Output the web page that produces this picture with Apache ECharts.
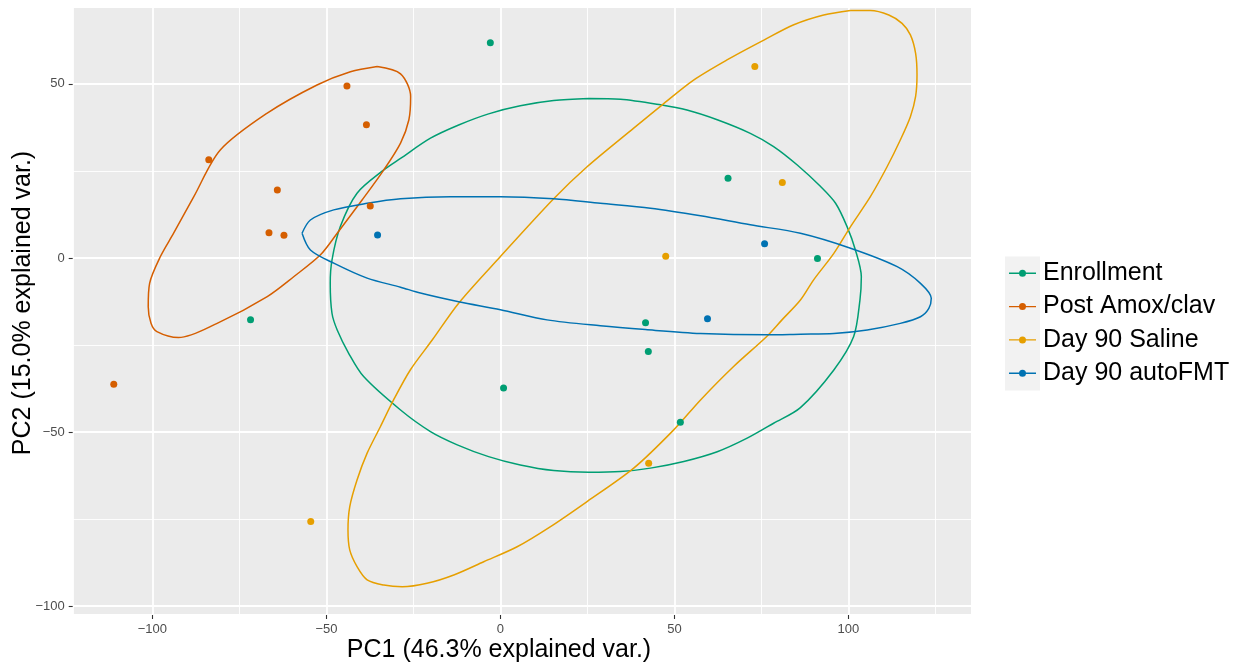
<!DOCTYPE html>
<html>
<head>
<meta charset="utf-8">
<title>PCA</title>
<script src="https://cdn.jsdelivr.net/npm/echarts@6/dist/echarts.min.js"></script>
<style>
  html, body { margin: 0; padding: 0; background: #fff; }
  #chart { width: 1237px; height: 663px; }
</style>
</head>
<body>
<div id="chart"></div>
<script>
const groups = ['Enrollment', 'Post Amox/clav', 'Day 90 Saline', 'Day 90 autoFMT']
const colors = ['#009E73', '#D55E00', '#E69F00', '#0072B2']

// sample scores [PC1, PC2]
const enrollmentPts = [[-2.9, 61.8], [-71.8, -17.8], [65.4, 22.9], [91.1, -0.2], [41.7, -18.6], [42.5, -26.9], [0.9, -37.4], [51.7, -47.2]]
const amoxPts = [[-44.1, 49.4], [-38.5, 38.3], [-83.8, 28.2], [-64.1, 19.5], [-37.4, 14.9], [-66.5, 7.2], [-62.2, 6.5], [-111.1, -36.3]]
const salinePts = [[73.1, 55.0], [81.0, 21.7], [47.5, 0.5], [42.6, -59.0], [-54.5, -75.7]]
const fmtPts = [[-35.3, 6.6], [75.9, 4.1], [59.5, -17.5]]

// ellipse outlines
const enrollmentEll = [[25.4, 45.8], [34.5, 45.6], [46.0, 44.0], [53.6, 42.5], [62.3, 39.7], [71.8, 35.8], [78.5, 32.0], [85.3, 26.7], [92.0, 20.5], [96.3, 15.7], [99.6, 9.0], [102.0, 2.3], [103.7, -5.4], [103.3, -12.1], [101.5, -22.6], [95.8, -32.2], [86.2, -43.0], [78.5, -47.5], [70.9, -51.8], [62.3, -55.7], [52.7, -58.5], [43.1, -60.4], [34.5, -61.4], [25.4, -61.6], [15.3, -61.1], [5.7, -59.5], [-3.4, -57.1], [-12.4, -53.7], [-20.1, -49.9], [-28.7, -43.7], [-39.3, -34.1], [-43.6, -27.4], [-46.9, -20.7], [-48.4, -15.9], [-48.9, -7.3], [-48.4, -0.6], [-46.0, 9.0], [-41.2, 18.6], [-33.5, 25.3], [-28.7, 28.6], [-20.1, 34.4], [-12.0, 38.2], [-3.4, 41.4], [5.7, 43.7], [15.3, 45.2], [25.4, 45.8]]
const amoxEll = [[-35.4, 55.0], [-28.7, 52.9], [-25.8, 46.4], [-26.3, 39.7], [-28.7, 33.0], [-33.5, 25.3], [-39.7, 16.7], [-46.9, 7.1], [-51.7, 0.9], [-59.4, -5.4], [-67.0, -11.1], [-81.4, -18.8], [-92.5, -22.9], [-98.7, -21.2], [-100.4, -18.8], [-101.2, -14.0], [-100.8, -7.3], [-97.7, 0.4], [-93.9, 7.1], [-88.1, 17.6], [-80.5, 31.0], [-67.0, 41.6], [-52.7, 49.7], [-43.1, 53.5], [-35.4, 55.0]]
const salineEll = [[100.6, 71.1], [106.3, 71.1], [111.6, 69.8], [115.4, 67.4], [117.8, 64.1], [119.3, 58.8], [119.7, 52.6], [119.3, 46.4], [117.8, 40.6], [114.9, 33.9], [111.1, 26.2], [106.3, 17.6], [100.6, 9.0], [95.8, 1.3], [90.0, -6.3], [86.2, -12.1], [80.9, -17.8], [76.6, -22.5], [67.0, -31.2], [57.5, -40.8], [49.8, -49.4], [38.3, -60.4], [24.9, -70.0], [14.4, -77.2], [4.8, -83.0], [-4.8, -87.3], [-13.4, -91.1], [-21.1, -93.5], [-28.2, -94.5], [-33.5, -94.0], [-38.3, -92.5], [-41.2, -88.7], [-43.3, -83.9], [-43.8, -78.2], [-43.3, -71.5], [-41.2, -63.8], [-38.3, -56.1], [-34.5, -48.5], [-30.7, -40.8], [-25.9, -32.2], [-19.6, -23.6], [-12.0, -13.0], [0.0, 0.4], [15.3, 17.0], [24.9, 26.2], [38.3, 37.3], [46.5, 44.0], [55.5, 51.1], [65.1, 56.9], [75.7, 62.6], [84.3, 67.0], [92.9, 69.8], [100.6, 71.1]]
const fmtEll = [[-57.0, 7.1], [-54.6, 10.9], [-47.9, 13.8], [-38.3, 15.7], [-28.7, 17.0], [-14.4, 17.6], [0.0, 17.6], [15.3, 17.0], [28.7, 15.7], [43.1, 14.3], [57.5, 12.1], [71.8, 9.5], [86.2, 7.1], [100.6, 2.8], [114.0, -2.5], [120.7, -7.3], [123.8, -11.6], [123.1, -14.5], [120.7, -16.9], [114.9, -18.8], [105.4, -20.7], [95.8, -21.7], [86.2, -21.9], [76.6, -22.1], [57.5, -21.7], [41.7, -20.6], [28.7, -19.5], [13.4, -17.8], [0.0, -14.9], [-12.0, -12.6], [-23.0, -10.1], [-28.7, -8.4], [-38.3, -5.8], [-47.9, -1.5], [-54.6, 2.3], [-57.0, 7.1]]

const points = [enrollmentPts, amoxPts, salinePts, fmtPts]
const ellipses = [enrollmentEll, amoxEll, salineEll, fmtEll]

const FONT = '"Liberation Sans", Arial, Helvetica, sans-serif'
const minus = (v) => (v < 0 ? '\u2212' + Math.abs(v) : String(v))
const legendIcon = 'path://M0,3.3H27V4.7H0Z M10,4A3.5,3.5 0 1 1 17,4A3.5,3.5 0 1 1 10,4Z'

function axisCommon() {
  return {
    type: 'value',
    minInterval: 50,
    maxInterval: 50,
    axisLine: { show: false, onZero: false },
    axisTick: { show: true, length: 4, lineStyle: { color: '#333333', width: 1.1 } },
    axisLabel: { showMinLabel: false, showMaxLabel: false, color: '#4D4D4D', fontSize: 13, fontFamily: FONT, formatter: minus },
    splitLine: { show: true, lineStyle: { color: '#ffffff', width: 1.8 } },
    minorTick: { show: false, splitNumber: 2 },
    minorSplitLine: { show: true, lineStyle: { color: '#ffffff', width: 0.9 } }
  }
}

const series = []
groups.forEach((name, i) => {
  series.push({
    name,
    type: 'line',
    data: ellipses[i],
    showSymbol: false,
    smooth: 0.3,
    lineStyle: { color: colors[i], width: 1.5 },
    itemStyle: { color: colors[i] },
    z: 2
  })
})
groups.forEach((name, i) => {
  series.push({
    name,
    type: 'scatter',
    data: points[i],
    symbolSize: 7,
    itemStyle: { color: colors[i], opacity: 1 },
    z: 3
  })
})

const chart = echarts.init(document.getElementById('chart'))
chart.setOption({
  animation: false,
  backgroundColor: '#ffffff',
  textStyle: { fontFamily: FONT },
  grid: {
    left: 72.7, top: 7, right: 265.7, bottom: 48,
    show: true, backgroundColor: '#EBEBEB', borderWidth: 0
  },
  xAxis: Object.assign(axisCommon(), { min: -122.9, max: 135.3 }),
  yAxis: Object.assign(axisCommon(), { min: -102.6, max: 72.1 }),
  legend: {
    orient: 'vertical',
    left: 1009,
    top: 256.8,
    padding: 0,
    itemGap: 0.3,
    itemWidth: 27,
    itemHeight: 7,
    icon: legendIcon,
    data: groups,
    textStyle: { fontSize: 25, color: '#000', lineHeight: 27, padding: [6, 0, 0, 2], fontFamily: FONT }
  },
  graphic: [
    { type: 'rect', z: 0, shape: { x: 1005, y: 256.5, width: 35, height: 134 }, style: { fill: '#F2F2F2' } },
    {
      type: 'text', x: 499, y: 650,
      style: { text: 'PC1 (46.3% explained var.)', font: '25px ' + FONT, fill: '#000', align: 'center', verticalAlign: 'middle' }
    },
    {
      type: 'text', x: 23, y: 303, rotation: Math.PI / 2,
      style: { text: 'PC2 (15.0% explained var.)', font: '25px ' + FONT, fill: '#000', align: 'center', verticalAlign: 'middle' }
    }
  ],
  series
})
</script>
</body>
</html>
